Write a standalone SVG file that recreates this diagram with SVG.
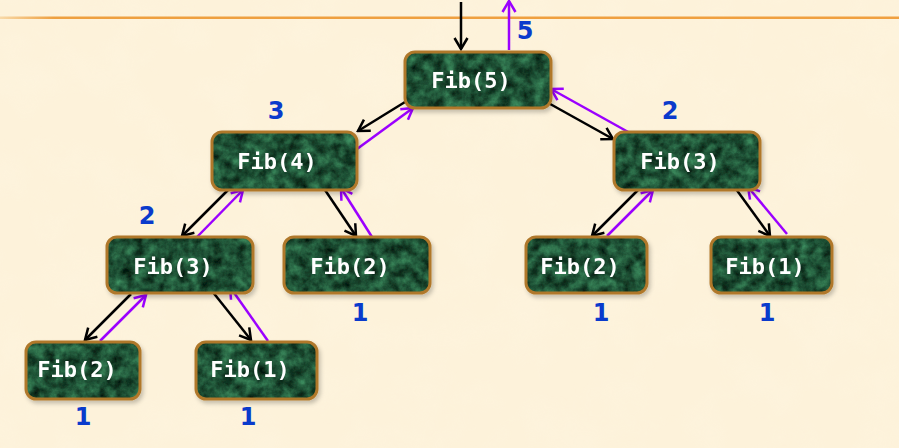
<svg xmlns="http://www.w3.org/2000/svg" width="899" height="448" viewBox="0 0 899 448">
<defs>
<style>
.node rect.b{fill:#1c4e33;}
.node rect.t{filter:url(#marble);}
.node rect.s{fill:none;stroke:#b0782a;stroke-width:3;}
.node text{font-family:"DejaVu Sans Mono","Liberation Mono",monospace;font-weight:bold;font-size:22px;fill:#ffffff;text-anchor:middle;dominant-baseline:central;}
.lbl{font-family:"DejaVu Sans","Liberation Sans",sans-serif;font-weight:bold;font-size:24px;fill:#0a3acc;text-anchor:middle;}
.call{stroke:#000;stroke-width:2.5;fill:none;marker-end:url(#ab);}
.ret{stroke:#9b00ff;stroke-width:2.5;fill:none;marker-end:url(#ap);}
</style>
<marker id="ab" viewBox="-13 -8 15 16" refX="0" refY="0" markerWidth="15" markerHeight="16" markerUnits="userSpaceOnUse" orient="auto">
<path d="M-11,-6.5 L0,0 L-11,6.5" fill="none" stroke="#000" stroke-width="2.5"/>
</marker>
<marker id="ap" viewBox="-13 -8 15 16" refX="0" refY="0" markerWidth="15" markerHeight="16" markerUnits="userSpaceOnUse" orient="auto">
<path d="M-11,-6.5 L0,0 L-11,6.5" fill="none" stroke="#9b00ff" stroke-width="2.5"/>
</marker>
<filter id="marble" x="0" y="0" width="1" height="1" color-interpolation-filters="sRGB">
<feTurbulence type="fractalNoise" baseFrequency="0.09" numOctaves="4" seed="5" result="n"/>
<feColorMatrix in="n" type="matrix" values="0.3 0 0 0 -0.03  0.6 0 0 0 0.02  0.42 0 0 0 0.0  0 0 0 0 1" result="c"/>
<feComposite in="c" in2="SourceAlpha" operator="in"/>
</filter>
<filter id="paper" x="0" y="0" width="1" height="1" color-interpolation-filters="sRGB">
<feTurbulence type="fractalNoise" baseFrequency="0.02" numOctaves="3" seed="2" result="n"/>
<feColorMatrix in="n" type="matrix" values="0 0 0 0 1  0 0 0 0 0.98  0 0 0 0 0.92  0.6 0 0 0 -0.25"/>
</filter>
<filter id="sh" x="-10%" y="-10%" width="130%" height="140%">
<feDropShadow dx="2" dy="3" stdDeviation="2" flood-color="#000" flood-opacity="0.22"/>
</filter>
<linearGradient id="og" x1="0" y1="0" x2="1" y2="0">
<stop offset="0" stop-color="#f8d9a8"/>
<stop offset="0.06" stop-color="#eea040"/>
<stop offset="1" stop-color="#f0a040"/>
</linearGradient>
</defs>
<rect x="0" y="0" width="899" height="448" fill="#fdf2da"/>
<rect x="0" y="0" width="899" height="448" filter="url(#paper)" opacity="0.6"/>
<rect x="0" y="16.5" width="899" height="2.5" fill="url(#og)"/>

<g id="connectors">
<line class="call" x1="461" y1="2" x2="461" y2="49"/>
<line class="ret" x1="509" y1="50" x2="509" y2="1"/>
<line class="call" x1="405" y1="102" x2="358" y2="131"/>
<line class="ret" x1="357" y1="149" x2="413" y2="108"/>
<line class="call" x1="543" y1="100" x2="613" y2="139"/>
<line class="ret" x1="630" y1="133" x2="551" y2="89"/>
<line class="call" x1="228" y1="190" x2="182" y2="236"/>
<line class="ret" x1="197" y1="237" x2="243" y2="190"/>
<line class="call" x1="325" y1="190" x2="356" y2="236"/>
<line class="ret" x1="372" y1="237" x2="341" y2="188"/>
<line class="call" x1="131" y1="294" x2="85" y2="340"/>
<line class="ret" x1="100" y1="341" x2="146" y2="295"/>
<line class="call" x1="208" y1="286" x2="251" y2="340"/>
<line class="ret" x1="268" y1="341" x2="230" y2="287"/>
<line class="call" x1="638" y1="190" x2="592" y2="236"/>
<line class="ret" x1="607" y1="236" x2="653" y2="190"/>
<line class="call" x1="736" y1="189" x2="770" y2="236"/>
<line class="ret" x1="787" y1="234" x2="748" y2="187"/>
</g>

<g id="n5" class="node" filter="url(#sh)">
<rect class="b" x="405" y="52" width="146" height="56" rx="10"/>
<rect class="t" x="405" y="52" width="146" height="56" rx="10"/>
<rect class="s" x="405" y="52" width="146" height="56" rx="10"/>
<text x="471" y="80">Fib(5)</text>
</g>
<g id="n4" class="node" filter="url(#sh)">
<rect class="b" x="212" y="132" width="145" height="58" rx="10"/>
<rect class="t" x="212" y="132" width="145" height="58" rx="10"/>
<rect class="s" x="212" y="132" width="145" height="58" rx="10"/>
<text x="277" y="161">Fib(4)</text>
</g>
<g id="n3r" class="node" filter="url(#sh)">
<rect class="b" x="614" y="132" width="146" height="58" rx="10"/>
<rect class="t" x="614" y="132" width="146" height="58" rx="10"/>
<rect class="s" x="614" y="132" width="146" height="58" rx="10"/>
<text x="680" y="161">Fib(3)</text>
</g>
<g id="n3l" class="node" filter="url(#sh)">
<rect class="b" x="107" y="237" width="146" height="56" rx="10"/>
<rect class="t" x="107" y="237" width="146" height="56" rx="10"/>
<rect class="s" x="107" y="237" width="146" height="56" rx="10"/>
<text x="173" y="266">Fib(3)</text>
</g>
<g id="n2m" class="node" filter="url(#sh)">
<rect class="b" x="284" y="237" width="146" height="56" rx="10"/>
<rect class="t" x="284" y="237" width="146" height="56" rx="10"/>
<rect class="s" x="284" y="237" width="146" height="56" rx="10"/>
<text x="350" y="266">Fib(2)</text>
</g>
<g id="n2r" class="node" filter="url(#sh)">
<rect class="b" x="526" y="237" width="121" height="56" rx="10"/>
<rect class="t" x="526" y="237" width="121" height="56" rx="10"/>
<rect class="s" x="526" y="237" width="121" height="56" rx="10"/>
<text x="580" y="266">Fib(2)</text>
</g>
<g id="n1r" class="node" filter="url(#sh)">
<rect class="b" x="711" y="237" width="121" height="56" rx="10"/>
<rect class="t" x="711" y="237" width="121" height="56" rx="10"/>
<rect class="s" x="711" y="237" width="121" height="56" rx="10"/>
<text x="765" y="266">Fib(1)</text>
</g>
<g id="n2bl" class="node" filter="url(#sh)">
<rect class="b" x="26" y="342" width="114" height="57" rx="10"/>
<rect class="t" x="26" y="342" width="114" height="57" rx="10"/>
<rect class="s" x="26" y="342" width="114" height="57" rx="10"/>
<text x="77" y="369">Fib(2)</text>
</g>
<g id="n1b" class="node" filter="url(#sh)">
<rect class="b" x="196" y="342" width="121" height="57" rx="10"/>
<rect class="t" x="196" y="342" width="121" height="57" rx="10"/>
<rect class="s" x="196" y="342" width="121" height="57" rx="10"/>
<text x="250" y="369">Fib(1)</text>
</g>

<g id="labels">
<text class="lbl" x="525" y="39">5</text>
<text class="lbl" x="276" y="119">3</text>
<text class="lbl" x="670" y="119">2</text>
<text class="lbl" x="147" y="224">2</text>
<text class="lbl" x="360" y="321">1</text>
<text class="lbl" x="601" y="321">1</text>
<text class="lbl" x="767" y="321">1</text>
<text class="lbl" x="83" y="425">1</text>
<text class="lbl" x="248" y="425">1</text>
</g>
</svg>
